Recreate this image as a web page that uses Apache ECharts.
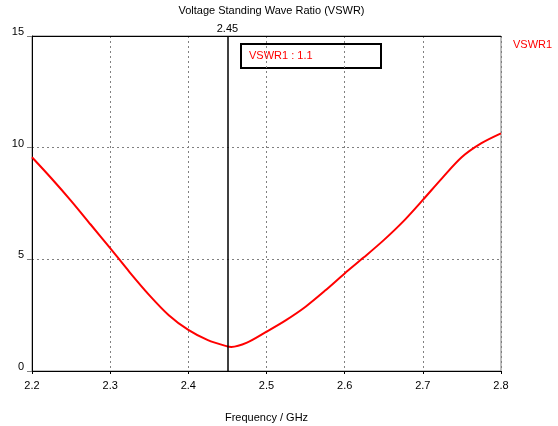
<!DOCTYPE html>
<html>
<head>
<meta charset="utf-8">
<script src="https://cdn.jsdelivr.net/npm/echarts@6/dist/echarts.min.js"></script>
<style>html,body{margin:0;padding:0;background:#fff}#c{width:558px;height:426px}</style>
</head>
<body>
<div id="c"></div>
<script>
var titleText = 'Voltage Standing Wave Ratio (VSWR)';
var xName = 'Frequency / GHz';
var seriesName = 'VSWR1';
var markerFreq = 2.45;
var markerText = 'VSWR1 : 1.1';
var freq = [2.2, 2.225, 2.25, 2.275, 2.3, 2.325, 2.35, 2.375, 2.4, 2.425, 2.45, 2.455, 2.475, 2.5, 2.525, 2.55, 2.575, 2.6, 2.625, 2.65, 2.675, 2.7, 2.725, 2.75, 2.775, 2.8];
var vswr = [9.57, 8.62, 7.62, 6.56, 5.5, 4.42, 3.4, 2.5, 1.84, 1.38, 1.1, 1.08, 1.27, 1.76, 2.28, 2.88, 3.6, 4.37, 5.1, 5.86, 6.7, 7.66, 8.65, 9.58, 10.2, 10.64];
var xTicks = {min: 2.2, max: 2.8, interval: 0.1};
var yTicks = {min: 0, max: 15, interval: 5};

var data = freq.map(function (f, i) { return [f, vswr[i]]; });
var font = 'Liberation Sans';
var chart = echarts.init(document.getElementById('c'));
chart.setOption({
  animation: false,
  textStyle: {fontFamily: font},
  title: {
    text: titleText, left: 266.5, textAlign: 'center', top: 0,
    textStyle: {fontSize: 11, fontWeight: 'normal', color: '#000', fontFamily: font}
  },
  legend: {
    data: [seriesName], left: 503, top: 34, icon: 'rect', itemWidth: 0, itemHeight: 0,
    textStyle: {color: '#ff0000', fontSize: 11, fontFamily: font}
  },
  grid: {left: 32, right: 57, top: 36, bottom: 55, show: true, borderColor: '#808080', borderWidth: 1, outerBoundsMode: 'none', containLabel: false},
  xAxis: [{
    type: 'value', min: xTicks.min, max: xTicks.max, interval: xTicks.interval,
    name: xName, nameLocation: 'middle', nameGap: 41,
    nameTextStyle: {fontSize: 11, color: '#000', fontFamily: font},
    axisLine: {show: true, lineStyle: {color: '#000', width: 1}},
    axisTick: {show: true, length: 3, lineStyle: {color: '#000'}},
    axisLabel: {fontSize: 11, color: '#000', margin: 9, formatter: function (v) { return v.toFixed(1); }},
    splitLine: {show: true, lineStyle: {color: '#808080', type: [2, 3], width: 1}}
  }, {
    type: 'value', position: 'top', min: xTicks.min, max: xTicks.max,
    axisLine: {show: true, lineStyle: {color: '#000', width: 1}},
    axisTick: {show: false}, axisLabel: {show: false}, splitLine: {show: false}
  }],
  yAxis: {
    type: 'value', min: yTicks.min, max: yTicks.max, interval: yTicks.interval,
    axisLine: {show: true, lineStyle: {color: '#000', width: 1}},
    axisTick: {show: true, length: 5, lineStyle: {color: '#808080'}},
    axisLabel: {fontSize: 11, color: '#000', margin: 8, verticalAlign: 'bottom', lineHeight: 8},
    splitLine: {show: true, lineStyle: {color: '#808080', type: [2, 3], width: 1}}
  },
  series: [{
    name: seriesName, type: 'line', data: data, smooth: 0.3, showSymbol: false,
    itemStyle: {color: '#ff0000'},
    lineStyle: {color: '#ff0000', width: 2},
    markLine: {
      silent: true, symbol: ['none', 'none'],
      lineStyle: {color: '#000', width: 1.5, type: 'solid'},
      label: {show: true, position: 'end', formatter: String(markerFreq), color: '#000', fontSize: 11, fontFamily: font, distance: 2},
      data: [{xAxis: markerFreq}]
    }
  }],
  graphic: [{
    type: 'group', left: 240, top: 43,
    children: [{
      type: 'rect', shape: {x: 0, y: 0, width: 140, height: 24},
      style: {fill: '#fff', stroke: '#000', lineWidth: 2}
    }, {
      type: 'text', x: 8, y: 12,
      style: {text: markerText, fill: '#ff0000', fontSize: 11, fontFamily: font, verticalAlign: 'middle'}
    }]
  }]
});
</script>
</body>
</html>
